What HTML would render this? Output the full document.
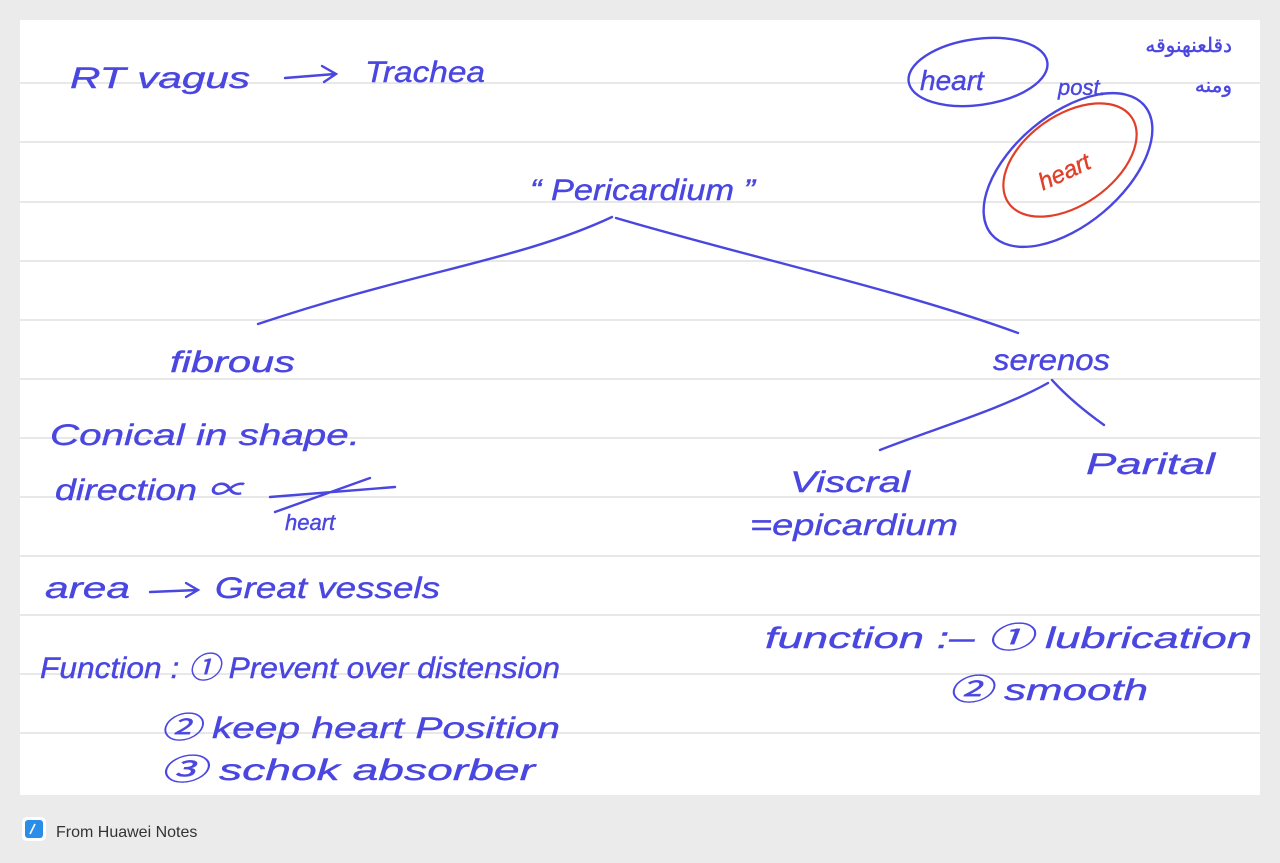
<!DOCTYPE html>
<html><head><meta charset="utf-8"><style>
body{margin:0;width:1280px;height:863px;background:#ebebeb;overflow:hidden;font-family:"Liberation Sans",sans-serif}
svg{position:absolute;left:0;top:0}
.t{font-family:"Liberation Sans","Noto Sans CJK SC",sans-serif;font-style:italic;fill:#4a46e0;stroke:#4a46e0;stroke-width:0.4}
</style></head><body>
<svg width="1280" height="863" viewBox="0 0 1280 863">
<rect x="20" y="20" width="1240" height="775" fill="#fff"/>
<g stroke="#d9d9d9" stroke-width="1.2">
<line x1="20" x2="1260" y1="83" y2="83"/><line x1="20" x2="1260" y1="142" y2="142"/>
<line x1="20" x2="1260" y1="202" y2="202"/><line x1="20" x2="1260" y1="261" y2="261"/>
<line x1="20" x2="1260" y1="320" y2="320"/><line x1="20" x2="1260" y1="379" y2="379"/>
<line x1="20" x2="1260" y1="438" y2="438"/><line x1="20" x2="1260" y1="497" y2="497"/>
<line x1="20" x2="1260" y1="556" y2="556"/><line x1="20" x2="1260" y1="615" y2="615"/>
<line x1="20" x2="1260" y1="674" y2="674"/><line x1="20" x2="1260" y1="733" y2="733"/>
</g>
<g fill="none" stroke="#4a46e0" stroke-width="2.4" stroke-linecap="round">
<path d="M612 217 C520 260 420 270 258 324"/>
<path d="M616 218 C760 260 900 290 1018 333"/>
<path d="M1048 383 C1000 410 930 430 880 450"/>
<path d="M1052 380 C1070 400 1090 415 1104 425"/>
<path d="M285 78 L335 74 M322 66 L336 74 L324 82"/>
<path d="M150 592 L198 590 M186 583 L198 590 L186 597"/>
<path d="M270 497 L395 487 M275 512 L370 478"/>
<ellipse cx="978" cy="72" rx="70" ry="33" transform="rotate(-8 978 72)"/>
<ellipse cx="1068" cy="170" rx="100" ry="55" transform="rotate(-40 1068 170)"/>
</g>
<ellipse cx="1070" cy="160" rx="75" ry="45" transform="rotate(-35 1070 160)" fill="none" stroke="#e0402a" stroke-width="2.2"/>
<text x="1038" y="182" class="t" style="fill:#e0402a;stroke:#e0402a" font-size="24" transform="rotate(-25 1060 175)">heart</text>
<g class="t" font-size="30">
<text x="70" y="88" textLength="180" lengthAdjust="spacingAndGlyphs">RT vagus</text><text x="365" y="82" textLength="120" lengthAdjust="spacingAndGlyphs">Trachea</text>
<text x="530" y="200" textLength="225" lengthAdjust="spacingAndGlyphs">“ Pericardium ”</text>
<text x="170" y="372" textLength="125" lengthAdjust="spacingAndGlyphs">fibrous</text>
<text x="993" y="370" textLength="117" lengthAdjust="spacingAndGlyphs">serenos</text>
<text x="790" y="492" textLength="120" lengthAdjust="spacingAndGlyphs">Viscral</text>
<text x="750" y="535" textLength="208" lengthAdjust="spacingAndGlyphs">=epicardium</text>
<text x="1086" y="474" textLength="129" lengthAdjust="spacingAndGlyphs">Parital</text>
<text x="50" y="445" textLength="310" lengthAdjust="spacingAndGlyphs">Conical  in shape.</text>
<text x="55" y="500" textLength="190" lengthAdjust="spacingAndGlyphs">direction ∝</text>
<text x="285" y="530" font-size="22">heart</text>
<text x="45" y="598" textLength="85" lengthAdjust="spacingAndGlyphs">area</text><text x="215" y="598" textLength="225" lengthAdjust="spacingAndGlyphs">Great vessels</text>
<text x="40" y="678" textLength="520" lengthAdjust="spacingAndGlyphs">Function : ① Prevent over distension</text>
<text x="160" y="738" textLength="400" lengthAdjust="spacingAndGlyphs">② keep heart Position</text>
<text x="160" y="780" textLength="375" lengthAdjust="spacingAndGlyphs">③ schok absorber</text>
<text x="765" y="648" textLength="487" lengthAdjust="spacingAndGlyphs">function :–  ① lubrication</text>
<text x="948" y="700" textLength="200" lengthAdjust="spacingAndGlyphs">② smooth</text>
<text x="920" y="90" font-size="28">heart</text>
<text x="1058" y="95" font-size="22">post.</text>
</g>
<text x="1232" y="52" class="t" font-size="20" text-anchor="end" style="font-style:normal">دقلعنهنوقه</text>
<text x="1232" y="92" class="t" font-size="20" text-anchor="end" style="font-style:normal">ومنه</text>
<rect x="22" y="817" width="24" height="24" rx="5" fill="#fff"/>
<rect x="25" y="820" width="18" height="18" rx="3" fill="#2a8de8"/>
<line x1="30" y1="834" x2="35" y2="824" stroke="#fff" stroke-width="1.6"/>
<text x="56" y="837" font-size="16" fill="#333">From Huawei Notes</text>
</svg>
</body></html>
